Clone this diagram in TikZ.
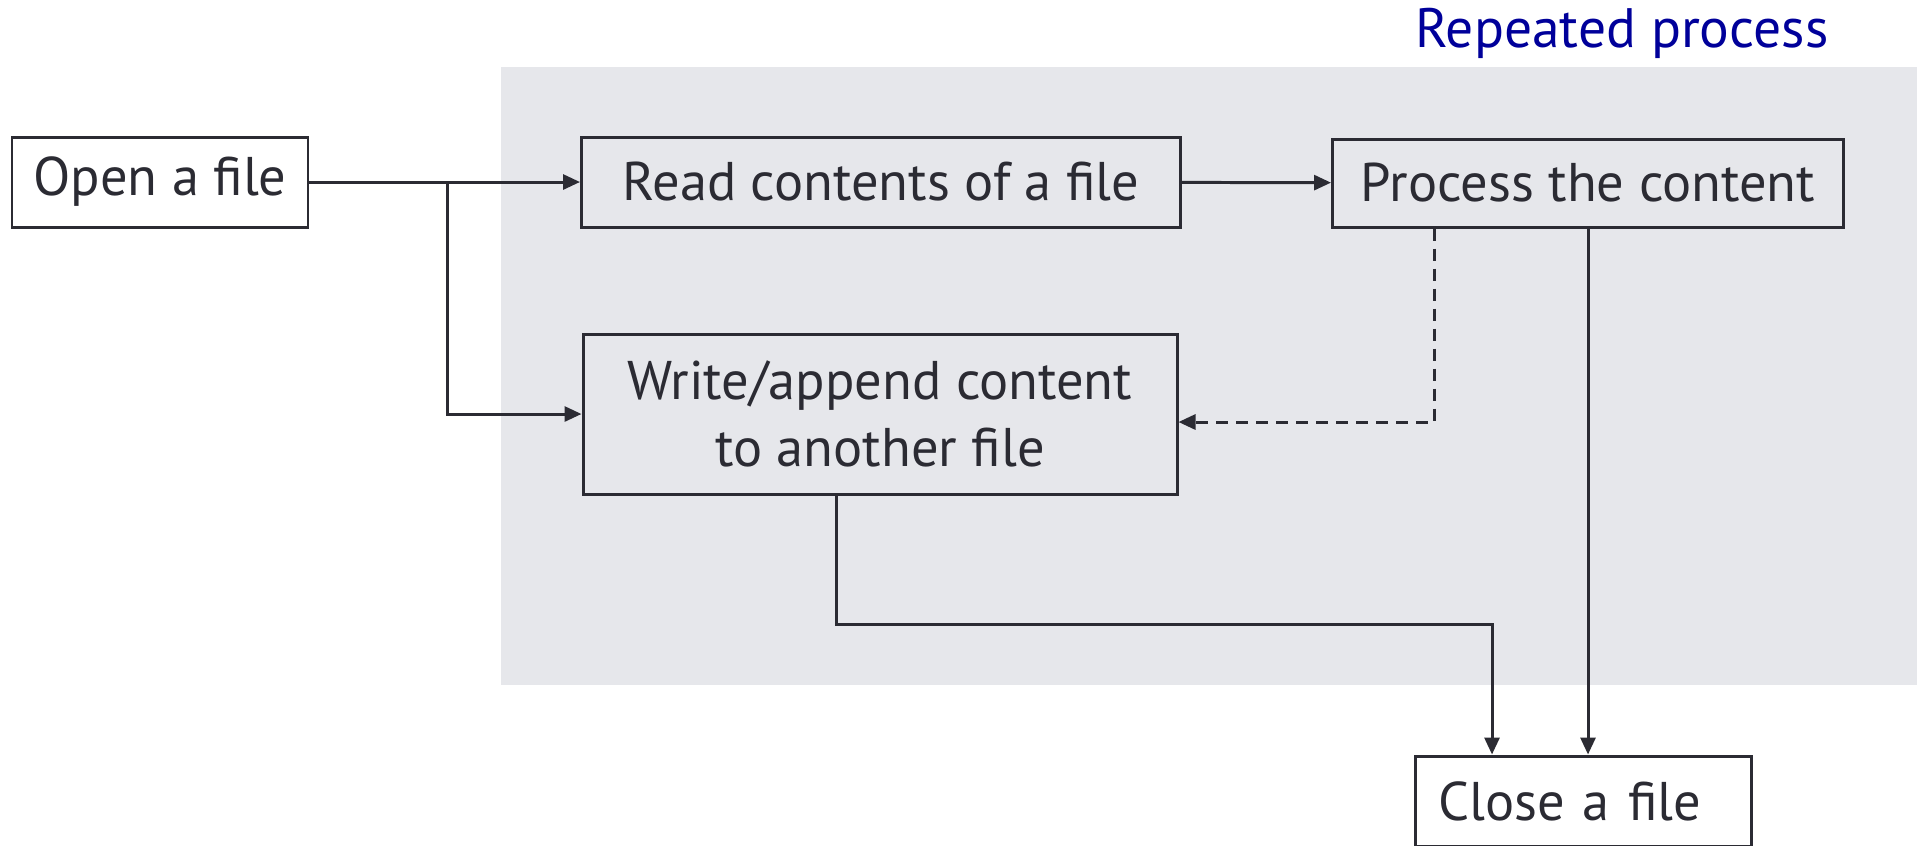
\documentclass[tikz,border=0pt]{standalone}
\usepackage{fontspec}
\setmainfont{PT Sans}
\usetikzlibrary{arrows.meta}
\definecolor{inkgray}{HTML}{2B2B33}
\definecolor{bandgray}{HTML}{E6E7EB}
\definecolor{titleblue}{HTML}{00009A}

\begin{document}
\begin{tikzpicture}[
    stepbox/.style={draw=inkgray, line width=0.85pt, text=inkgray, inner sep=0pt,
        font=\fontsize{15.5}{19}\selectfont, align=center},
    flow/.style={draw=inkgray, line width=0.85pt, -{Triangle[length=1.7mm,width=1.5mm]}},
    back/.style={flow, dash pattern=on 1.2mm off 0.8mm}
]
\useasboundingbox (0,0) rectangle (19.17,-8.45);
\fill[bandgray] (5.01,-0.67) rectangle (19.17,-6.85);
\node[text=titleblue, font=\fontsize{15.8}{18}\selectfont] (title) at (16.22,-0.33) {Repeated process};
\node[stepbox, minimum width=2.96cm, minimum height=0.90cm] (open) at (1.60,-1.82) {Open a file};
\node[stepbox, minimum width=5.99cm, minimum height=0.90cm] (read) at (8.81,-1.82) {Read contents of a file};
\node[stepbox, minimum width=5.11cm, minimum height=0.88cm] (process) at (15.88,-1.83) {Process the content};
\node[stepbox, minimum width=5.94cm, minimum height=1.60cm, fill=bandgray] (write) at (8.80,-4.14) {Write/append content\\to another file};
\node[stepbox, text width=2.90cm, inner xsep=0.23cm, minimum height=0.90cm, align=left] (close) at (15.83,-8.01) {Close a file};
\coordinate (split) at (4.47,-1.82);
\coordinate (ret) at (14.34,-4.22);
\coordinate (wout) at (8.36,-6.24);
\coordinate (bend) at (14.92,-6.24);
\draw[flow] (open) -- (read);
\draw[flow] (split) |- (write.west);
\draw[flow] (read) -- (process);
\draw[back] (process.south -| ret) -- (ret) -- (ret -| write.east);
\draw[flow] (process) -- (process |- close.north);
\draw[flow] (write.south -| wout) -- (wout) -- (bend) -- (bend |- close.north);
\end{tikzpicture}
\end{document}
